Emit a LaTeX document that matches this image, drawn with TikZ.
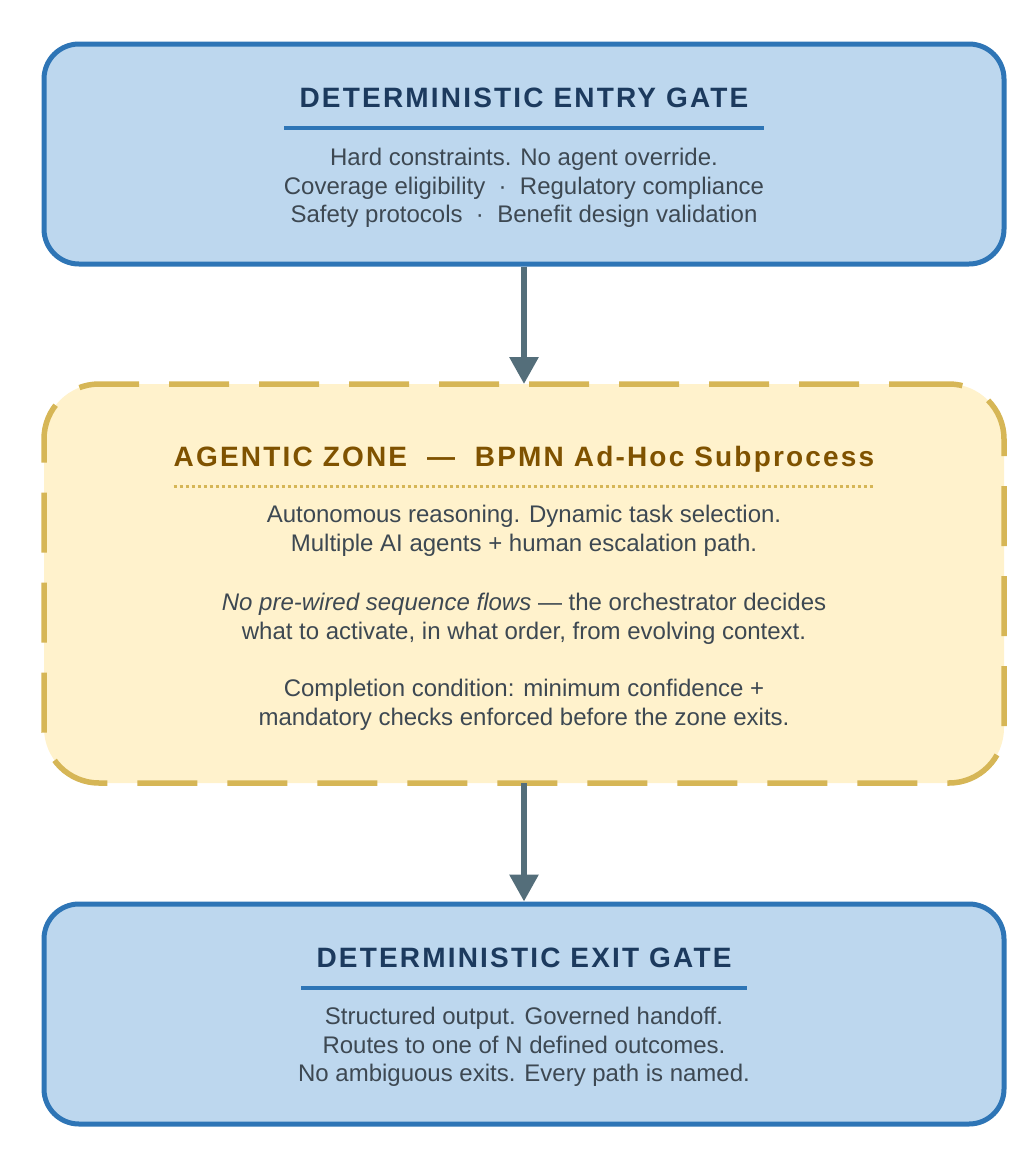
\documentclass[tikz,border=0pt]{standalone}
\usepackage{fontspec}
\setmainfont{Liberation Sans}
\usetikzlibrary{arrows.meta, positioning}
\definecolor{gateblue}{HTML}{2E75B6}
\definecolor{gatefill}{HTML}{BDD7EE}
\definecolor{gatenavy}{HTML}{1C3A5E}
\definecolor{zonegold}{HTML}{D6B656}
\definecolor{zonefill}{HTML}{FFF2CC}
\definecolor{zonebrown}{HTML}{7F5200}
\definecolor{bodygray}{HTML}{3D4852}
\definecolor{arrowgray}{HTML}{546E7A}

\begin{document}
\begin{tikzpicture}[
    x=1pt, y=-1pt,
    gate/.style={draw=gateblue, fill=gatefill, line width=5pt, rounded corners=35pt, minimum width=960pt, minimum height=220pt},
    zone/.style={draw=zonegold, fill=zonefill, line width=5.5pt, dash pattern=on 60pt off 30pt, rounded corners=55pt, minimum width=960pt, minimum height=399pt, outer sep=0pt},
    headlab/.style={font=\fontsize{28}{32}\selectfont\bfseries\addfontfeature{LetterSpace=7.8}, text=#1, anchor=base, inner sep=0pt},
    bodytext/.style={font=\fontsize{24}{28.75}\selectfont, text=bodygray, align=center, inner sep=0pt},
    arrow/.style={-{Triangle[width=28pt, length=27pt]}, line width=6pt, draw=arrowgray}
  ]
    \useasboundingbox (0,0) rectangle (1029,1149);

    % boxes
    \node[gate] (entry) at (524,154) {};
    \node[zone] (zone) at (524,583.5) {};
    \node[gate] (exit) at (524,1014) {};

    \draw[arrow] (entry) -- (zone);
    \draw[arrow] (zone) -- (exit);

    % entry gate
    \node[headlab=gatenavy] (t1) at (524,107) {DETERMINISTIC ENTRY GATE};
    \draw[gateblue, line width=4pt] ([xshift=-15pt, yshift=-20.5pt]t1.base west) -- ([xshift=15pt, yshift=-20.5pt]t1.base east);
    \node[bodytext] (b1) at (524,188) {Hard constraints. No agent override.\\Coverage eligibility\ \ ·\ \ Regulatory compliance\\Safety protocols\ \ ·\ \ Benefit design validation};

    % agentic zone
    \node[headlab=zonebrown] (t2) at (524,466) {AGENTIC ZONE\ \ —\ \ BPMN Ad-Hoc Subprocess};
    \draw[zonegold, line width=3pt, dash pattern=on 3pt off 3pt] ([yshift=-20pt]t2.base west) -- ([yshift=-20pt]t2.base east);
    \node[bodytext] (p1) at (524,531) {Autonomous reasoning. Dynamic task selection.\\Multiple AI agents + human escalation path.};
    \node[bodytext] (p2) at (524,619) {{\itshape No pre-wired sequence flows} — the orchestrator decides\\what to activate, in what order, from evolving context.};
    \node[bodytext] (p3) at (524,705) {Completion condition: minimum confidence +\\mandatory checks enforced before the zone exits.};

    % exit gate
    \node[headlab=gatenavy] (t3) at (524,967) {DETERMINISTIC EXIT GATE};
    \draw[gateblue, line width=4pt] ([xshift=-15pt, yshift=-20.5pt]t3.base west) -- ([xshift=15pt, yshift=-20.5pt]t3.base east);
    \node[bodytext] (b3) at (524,1047) {Structured output. Governed handoff.\\Routes to one of N defined outcomes.\\No ambiguous exits. Every path is named.};
  \end{tikzpicture}
\end{document}
